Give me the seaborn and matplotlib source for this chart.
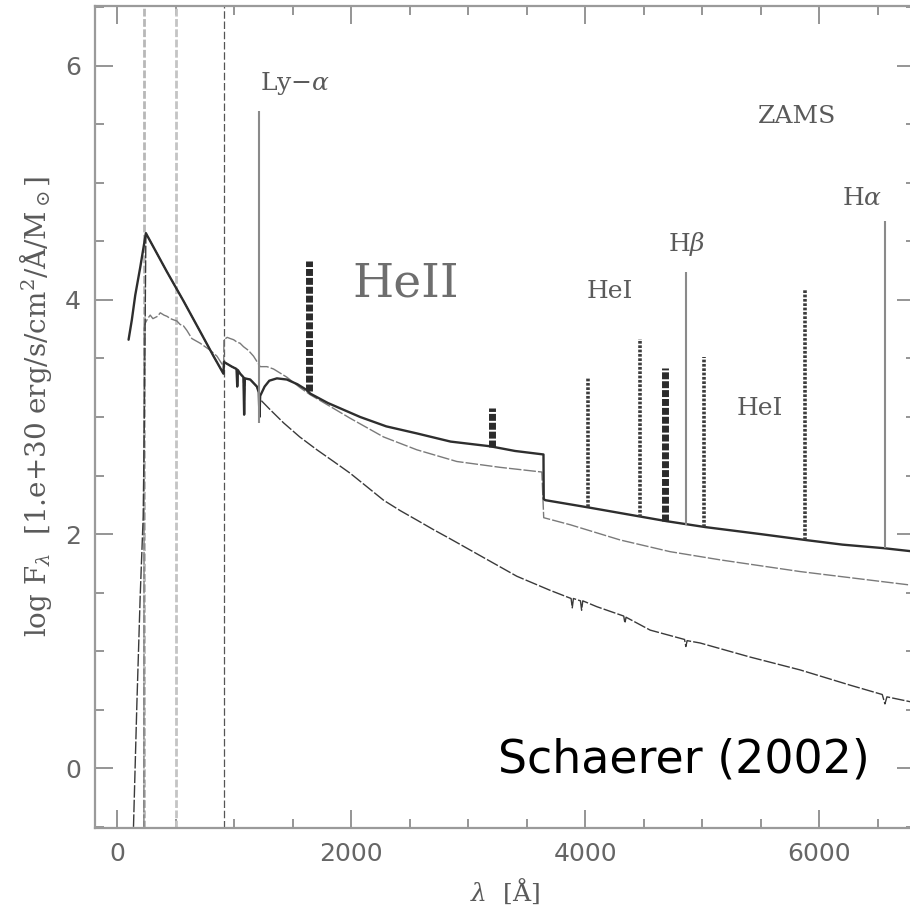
import matplotlib
matplotlib.use("Agg")
import matplotlib.pyplot as plt
import numpy as np
import pandas as pd
import seaborn as sns

# ---------------------------------------------------------------- data
# shared part of the total and pure stellar spectra (He II edge -> Ly-alpha)
w_shared = [245, 425, 567, 709, 823, 908, 912, 980, 1020, 1026, 1032, 1051,
            1079, 1085, 1091, 1137, 1194, 1210]
f_shared = [4.57, 4.24, 3.99, 3.73, 3.52, 3.37, 3.47, 3.43, 3.41, 3.26, 3.40, 3.37,
            3.34, 3.02, 3.33, 3.32, 3.26, 3.21]

# total (stellar + nebular) spectrum
w_total_blue = [97, 125, 154, 197]
f_total_blue = [3.66, 3.83, 4.04, 4.28]
w_total_red = [1216, 1222, 1260, 1300, 1365, 1450, 1540, 1621, 1650, 1800, 2077,
               2300, 2561, 2850, 3188, 3400, 3644, 3646, 3658, 4014, 4470, 4698,
               5026, 5500, 5880, 6200, 6550, 6820]
f_total_red = [3.00, 3.18, 3.26, 3.31, 3.33, 3.32, 3.28, 3.23, 3.20, 3.12, 3.00,
               2.92, 2.86, 2.79, 2.75, 2.71, 2.68, 2.30, 2.29, 2.23, 2.15, 2.11,
               2.06, 2.00, 1.95, 1.91, 1.88, 1.85]

# pure stellar continuum
w_star_blue = [139, 168, 196, 222, 232]
f_star_blue = [-0.5, 0.55, 1.46, 2.15, 3.0]
w_star_red = [1216, 1222, 1300, 1422, 1560, 1707, 1850, 1991, 2140, 2276, 2420,
              2561, 2700, 2846, 3131, 3416, 3700, 3880, 3890, 3900, 3960, 3970,
              3980, 4100, 4330, 4340, 4350, 4556, 4850, 4861, 4872, 4983, 5410,
              5838, 6265, 6540, 6563, 6580, 6820]
f_star_red = [3.00, 3.15, 3.07, 2.95, 2.83, 2.72, 2.62, 2.52, 2.40, 2.29, 2.20,
              2.12, 2.04, 1.96, 1.80, 1.64, 1.52, 1.45, 1.37, 1.45, 1.43, 1.35,
              1.43, 1.38, 1.30, 1.24, 1.29, 1.18, 1.10, 1.04, 1.09, 1.07, 0.95,
              0.84, 0.71, 0.63, 0.55, 0.61, 0.56]

# alternative stellar model (thin grey)
w_alt = [228, 230, 239, 260, 282, 305, 325, 345, 368, 400, 425, 455, 481, 510,
         538, 565, 595, 638, 709, 795, 852, 910, 912, 940, 966, 995, 1023, 1050,
         1080, 1120, 1165, 1222, 1280, 1336, 1450, 1564, 1650, 1821, 1990, 2276,
         2561, 2903, 3274, 3630, 3646, 3872, 4299, 4726, 5154, 5838, 6820]
f_alt = [-0.5, 3.78, 3.80, 3.84, 3.87, 3.84, 3.85, 3.86, 3.89, 3.87, 3.86, 3.84,
         3.83, 3.82, 3.79, 3.78, 3.74, 3.67, 3.63, 3.57, 3.52, 3.43, 3.66, 3.68,
         3.67, 3.66, 3.64, 3.63, 3.60, 3.57, 3.52, 3.43, 3.43, 3.41, 3.34, 3.25,
         3.19, 3.09, 2.99, 2.83, 2.72, 2.62, 2.57, 2.53, 2.14, 2.08, 1.95, 1.85,
         1.78, 1.68, 1.56]

# emission lines: wavelength, continuum level, peak level
h_wave = [1216, 4861, 6563]
h_low = [2.95, 2.08, 1.88]
h_high = [5.61, 4.24, 4.67]

heii_wave = [1640, 3203, 4686]
heii_low = [3.22, 2.74, 2.11]
heii_high = [4.33, 3.08, 3.42]

hei_wave = [4026, 4471, 5016, 5876]
hei_low = [2.23, 2.15, 2.06, 1.95]
hei_high = [3.34, 3.67, 3.51, 4.09]

# ionisation edges
edges = [228, 504, 912]

x_ticks = [0, 2000, 4000, 6000]
y_ticks = [0, 2, 4, 6]

# ---------------------------------------------------------------- style
sns.set_theme(style="ticks")
plt.rcParams["font.family"] = ["DejaVu Sans"]
plt.rcParams["mathtext.fontset"] = "dejavuserif"

fig = plt.figure(figsize=(9.10, 9.09), dpi=100)
ax = fig.add_axes([95 / 910, 81 / 909, 820 / 910, 822 / 909])

grey_txt = "#5a5a5a"

# ionisation edge markers
ax.axvline(edges[0], color="#b8b8b8", lw=2.0, ls=(0, (2.8, 0.9)), zorder=1)
ax.axvline(edges[1], color="#c4c4c4", lw=2.0, ls=(0, (2.8, 0.9)), zorder=1)
ax.axvline(edges[2], color="#555555", lw=0.9, ls=(0, (6, 2.2)), zorder=1)

# spectra
alt = pd.DataFrame({"wave": w_alt, "flux": f_alt})
sns.lineplot(data=alt, x="wave", y="flux", ax=ax, sort=False, estimator=None,
             color="#7a7a7a", lw=1.0, linestyle=(0, (9, 1.5)), zorder=2)

star = pd.DataFrame({"wave": w_star_blue + w_shared + w_star_red,
                     "flux": f_star_blue + f_shared + f_star_red})
sns.lineplot(data=star, x="wave", y="flux", ax=ax, sort=False, estimator=None,
             color="#3a3a3a", lw=1.0, linestyle=(0, (9, 1.5)), zorder=3)

total = pd.DataFrame({"wave": w_total_blue + w_shared + w_total_red,
                      "flux": f_total_blue + f_shared + f_total_red})
sns.lineplot(data=total, x="wave", y="flux", ax=ax, sort=False, estimator=None,
             color="#2e2e2e", lw=1.7, zorder=4)

# emission lines
ax.vlines(h_wave, h_low, h_high, colors="#8a8a8a", lw=1.5, zorder=5)
ax.vlines(heii_wave, heii_low, heii_high, colors="#2b2b2b", lw=5.0,
          linestyles=[(0, (1.0, 0.28))], zorder=5)
ax.vlines(hei_wave, hei_low, hei_high, colors="#3c3c3c", lw=2.6,
          linestyles=[(0, (0.75, 0.45))], zorder=5)

# labels
lab = dict(ha="center", va="center", color=grey_txt, fontsize=18,
           family="DejaVu Serif")
ax.text(1521, 5.85, r"Ly$-\alpha$", **lab)
ax.text(5812, 5.57, "ZAMS", **lab)
ax.text(4214, 4.07, "HeI", **lab)
ax.text(4867, 4.48, r"H$\beta$", **lab)
ax.text(5496, 3.07, "HeI", **lab)
ax.text(6368, 4.87, r"H$\alpha$", **lab)
ax.text(2462, 4.14, "HeII", ha="center", va="center", color="#6e6e6e",
        fontsize=34, family="DejaVu Serif")
ax.text(4846, 0.07, "Schaerer (2002)", ha="center", va="center", color="black",
        fontsize=33, family="DejaVu Sans")

# axes
ax.set_xlim(-190, 6820)
ax.set_ylim(-0.51, 6.51)
ax.set_xticks(x_ticks)
ax.set_yticks(y_ticks)
ax.set_xticks(np.arange(-0, 7000, 500), minor=True)
ax.set_yticks(np.arange(-0.5, 6.6, 0.5), minor=True)
ax.tick_params(which="both", direction="in", top=True, right=True,
               color="#8c8c8c", width=1.3)
ax.tick_params(which="major", length=13, labelsize=18, labelcolor="#666666",
               pad=10)
ax.tick_params(which="minor", length=6.5)
for s in ax.spines.values():
    s.set_color("#9a9a9a")
    s.set_linewidth(1.6)
ax.spines["right"].set_visible(False)

ax.set_xlabel(r"$\lambda$  [Å]", fontsize=18, color=grey_txt,
              family="DejaVu Serif", labelpad=8)
ax.set_ylabel(r"log F$_\lambda$  [1.e+30 erg/s/cm$^2$/Å/M$_\odot$]",
              fontsize=20, color=grey_txt, family="DejaVu Serif")
ax.yaxis.set_label_coords(-0.05, 0.513)

fig.savefig("out.png", dpi=100)
